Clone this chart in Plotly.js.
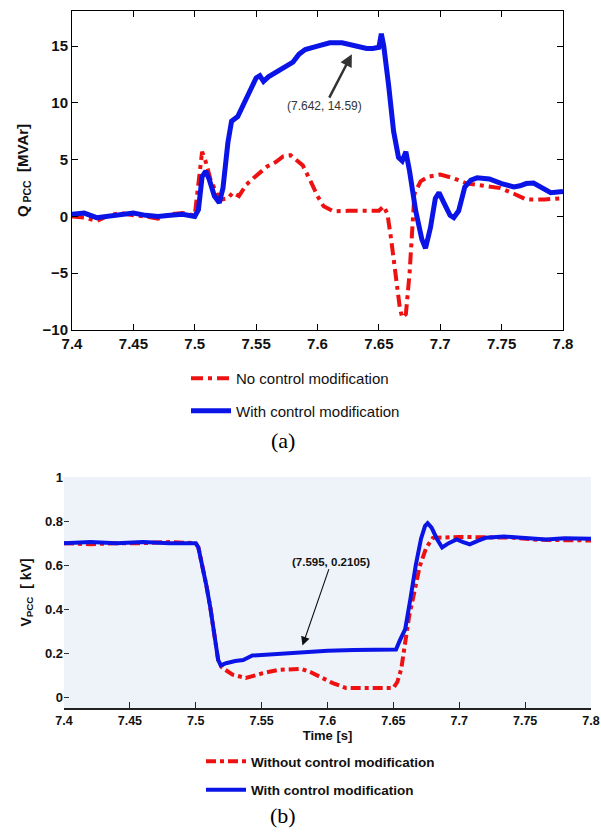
<!DOCTYPE html>
<html>
<head>
<meta charset="utf-8">
<script src="https://cdn.plot.ly/plotly-3.0.1.min.js"></script>
<style>html,body{margin:0;padding:0;background:#fff;}#chart{width:601px;height:832px;}</style>
</head>
<body>
<div id="chart"></div>
<script>
// ---- Panel (a): reactive power at PCC [MVAr] ----
const tQBlue = [7.400,7.410,7.420,7.430,7.440,7.450,7.460,7.470,7.480,7.490,7.500,7.503,7.506,7.509,7.512,7.516,7.520,7.523,7.527,7.530,7.535,7.540,7.545,7.550,7.553,7.556,7.560,7.570,7.580,7.585,7.590,7.600,7.610,7.620,7.630,7.640,7.645,7.650,7.652,7.654,7.658,7.662,7.666,7.669,7.672,7.675,7.680,7.685,7.688,7.692,7.696,7.699,7.703,7.708,7.711,7.715,7.720,7.725,7.730,7.740,7.750,7.760,7.765,7.770,7.776,7.782,7.790,7.800];
const qBlue  = [0.2,0.3,-0.1,0.0,0.1,0.3,0.1,0.0,0.1,0.2,0.0,0.6,3.5,4.0,3.2,1.8,1.2,2.5,6.5,8.4,8.8,10.0,11.0,12.2,12.4,11.9,12.3,12.9,13.6,14.3,14.7,15.0,15.3,15.3,15.0,14.8,14.8,14.9,16.1,15.0,11.5,7.5,5.2,4.9,5.7,4.0,0.5,-2.0,-2.8,-1.0,1.6,2.1,1.2,0.1,-0.1,0.5,2.6,3.2,3.4,3.3,2.9,2.6,2.7,2.9,2.95,2.6,2.1,2.2];
const tQRed  = [7.400,7.410,7.420,7.430,7.440,7.450,7.460,7.470,7.480,7.490,7.500,7.503,7.506,7.509,7.513,7.518,7.522,7.527,7.531,7.536,7.542,7.548,7.554,7.559,7.566,7.572,7.578,7.583,7.588,7.594,7.600,7.605,7.613,7.625,7.640,7.650,7.654,7.657,7.660,7.664,7.667,7.669,7.672,7.675,7.677,7.679,7.684,7.690,7.700,7.710,7.722,7.735,7.749,7.760,7.770,7.785,7.800];
const qRed   = [0.0,-0.1,-0.4,0.1,0.3,0.1,0.0,-0.2,0.2,0.3,0.1,3.0,5.7,4.8,3.2,2.0,1.5,1.6,2.1,1.8,2.8,3.4,4.0,4.4,4.8,5.3,5.4,5.0,4.5,3.2,1.8,0.9,0.45,0.5,0.5,0.5,0.9,0.2,-2.0,-5.5,-8.0,-8.9,-8.6,-5.0,-1.5,2.0,3.1,3.5,3.7,3.4,2.9,2.7,2.5,2.0,1.5,1.5,1.6];

// ---- Panel (b): voltage at PCC [kV] ----
const tVBlue = [7.400,7.420,7.440,7.460,7.480,7.500,7.502,7.505,7.508,7.511,7.514,7.517,7.519,7.523,7.530,7.536,7.543,7.555,7.570,7.585,7.600,7.620,7.640,7.652,7.655,7.659,7.663,7.667,7.671,7.674,7.676,7.679,7.683,7.687,7.692,7.698,7.703,7.708,7.714,7.720,7.734,7.750,7.766,7.780,7.800];
const vBlue  = [0.700,0.705,0.700,0.705,0.700,0.700,0.680,0.600,0.510,0.410,0.290,0.170,0.145,0.155,0.165,0.170,0.190,0.195,0.200,0.208,0.212,0.215,0.215,0.217,0.260,0.310,0.450,0.600,0.720,0.777,0.790,0.770,0.720,0.680,0.700,0.717,0.705,0.694,0.710,0.724,0.730,0.725,0.717,0.722,0.720];
const tVRed  = [7.400,7.420,7.440,7.460,7.480,7.500,7.502,7.505,7.508,7.511,7.514,7.517,7.520,7.528,7.538,7.551,7.563,7.574,7.580,7.587,7.594,7.604,7.614,7.630,7.650,7.653,7.656,7.659,7.662,7.666,7.670,7.675,7.680,7.700,7.720,7.740,7.760,7.780,7.800];
const vRed   = [0.700,0.695,0.700,0.700,0.705,0.700,0.680,0.600,0.510,0.410,0.290,0.170,0.135,0.103,0.088,0.110,0.125,0.129,0.130,0.115,0.095,0.065,0.043,0.042,0.043,0.070,0.130,0.250,0.370,0.480,0.595,0.680,0.724,0.728,0.726,0.725,0.715,0.715,0.712];

const legendA = ["No control modification", "With control modification"];
const legendB = ["Without control modification", "With control modification"];
const noteA = {x: 7.628, y: 14.3, text: "(7.642, 14.59)"};
const noteB = {x: 7.581, y: 0.235, text: "(7.595, 0.2105)"};

const RED = "#ee1111", BLUE = "#0a14e6";
const F = "Liberation Sans, Arial, sans-serif";

const traces = [
  {x: tQRed, y: qRed, xaxis: "x", yaxis: "y", mode: "lines", name: legendA[0], legend: "legend", legendgroup: "a1",
   line: {color: RED, width: 4, dash: "12px,5px,4px,5px"}},
  {x: tQBlue, y: qBlue, xaxis: "x", yaxis: "y", mode: "lines", name: legendA[1], legend: "legend", legendgroup: "a2",
   line: {color: BLUE, width: 5}},
  {x: tVRed, y: vRed, xaxis: "x2", yaxis: "y2", mode: "lines", name: legendB[0], legend: "legend2", legendgroup: "b1",
   line: {color: RED, width: 4, dash: "10px,4px,4px,4px"}},
  {x: tVBlue, y: vBlue, xaxis: "x2", yaxis: "y2", mode: "lines", name: legendB[1], legend: "legend2", legendgroup: "b2",
   line: {color: BLUE, width: 4}}
];

const W = 601, H = 832;
const layout = {
  width: W, height: H,
  margin: {l: 0, r: 0, t: 0, b: 0},
  paper_bgcolor: "#fff", plot_bgcolor: "rgba(0,0,0,0)",
  font: {family: F, color: "#111"},
  showlegend: true,
  xaxis: {domain: [72/W, 563/W], range: [7.4, 7.8], tickvals: [7.4,7.45,7.5,7.55,7.6,7.65,7.7,7.75,7.8],
          ticks: "inside", ticklen: 6, tickcolor: "#000", showline: true, linecolor: "#000", linewidth: 1, mirror: "ticks",
          showgrid: false, zeroline: false, tickfont: {size: 15, family: F, weight: "bold", color: "#111"}, anchor: "y"},
  yaxis: {domain: [1-330/H, 1-11/H], range: [-10, 18.1], tickvals: [-10,-5,0,5,10,15],
          ticks: "inside", ticklen: 6, tickcolor: "#000", showline: true, linecolor: "#000", linewidth: 1, mirror: "ticks",
          showgrid: false, zeroline: false, tickfont: {size: 15, family: F, weight: "bold", color: "#111"}, anchor: "x",
          title: {text: "Q<sub> PCC</sub>  [MVAr]", font: {size: 15, family: F, weight: "bold", color: "#111"}, standoff: 10}},
  xaxis2: {domain: [64/W, 591/W], range: [7.4, 7.8], tickvals: [7.4,7.45,7.5,7.55,7.6,7.65,7.7,7.75,7.8],
          ticks: "inside", ticklen: 6, tickcolor: "#222", showline: true, linecolor: "#222", linewidth: 1.5,
          showgrid: false, zeroline: false, tickfont: {size: 12.5, family: F, weight: "bold", color: "#111"}, anchor: "y2",
          title: {text: "Time [s]", font: {size: 13, family: F, weight: "bold", color: "#111"}, standoff: 4}},
  yaxis2: {domain: [1-708/H, 1-477/H], range: [-0.048, 1.0], tickvals: [0,0.2,0.4,0.6,0.8,1], ticktext: ["0","0.2","0.4","0.6","0.8","1"],
          ticks: "inside", ticklen: 5, tickcolor: "#333", showline: false,
          showgrid: false, zeroline: false, tickfont: {size: 13, family: F, weight: "bold", color: "#111"}, anchor: "x2",
          title: {text: "V<sub>PCC</sub>  [ kV]", font: {size: 14, family: F, weight: "bold", color: "#111"}, standoff: 10}},
  shapes: [
    {type: "rect", xref: "x2 domain", yref: "y2 domain", x0: 0, x1: 1, y0: 0, y1: 1, layer: "below",
     fillcolor: "#eef3fa", line: {width: 0}}
  ],
  legend: {x: 186/W, xanchor: "left", y: 1-362/H, yanchor: "top", bgcolor: "rgba(0,0,0,0)",
           font: {size: 15, family: F, color: "#111"}, tracegroupgap: 10, itemwidth: 40},
  legend2: {x: 201/W, xanchor: "left", y: 1-746/H, yanchor: "top", bgcolor: "rgba(0,0,0,0)",
           font: {size: 13.5, family: F, weight: "bold", color: "#111"}, tracegroupgap: 8, itemwidth: 40},
  annotations: [
    {x: noteA.x, y: noteA.y, xref: "x", yref: "y", text: noteA.text, showarrow: true, ax: -27, ay: 52,
     arrowhead: 2, arrowsize: 1, arrowwidth: 2.5, arrowcolor: "#333", font: {size: 12, family: F, color: "#333"}},
    {x: noteB.x, y: noteB.y, xref: "x2", yref: "y2", text: noteB.text, showarrow: true, ax: 29, ay: -84,
     arrowhead: 2, arrowsize: 1.6, arrowwidth: 1.1, arrowcolor: "#111", font: {size: 11.5, family: F, weight: "bold", color: "#111"}},
    {x: 283/W, y: 1-441/H, xref: "paper", yref: "paper", xanchor: "center", yanchor: "middle", text: "(a)", showarrow: false,
     font: {size: 22, family: "Liberation Serif, Times New Roman, serif", color: "#000"}},
    {x: 283/W, y: 1-815/H, xref: "paper", yref: "paper", xanchor: "center", yanchor: "middle", text: "(b)", showarrow: false,
     font: {size: 22, family: "Liberation Serif, Times New Roman, serif", color: "#000"}}
  ]
};

Plotly.newPlot("chart", traces, layout, {displayModeBar: false, staticPlot: true});
</script>
</body>
</html>
